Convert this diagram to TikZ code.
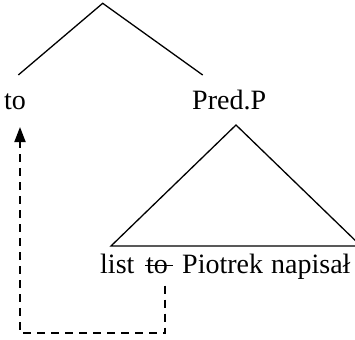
\documentclass[tikz,border=0pt]{standalone}
\usepackage{fontspec}
\setmainfont{Liberation Serif}
\usetikzlibrary{arrows.meta}
\begin{document}
\begin{tikzpicture}[x=1pt,y=1pt,
  word/.style={anchor=base west,inner sep=0pt,font=\fontsize{28}{33}\selectfont},
  branch/.style={line width=1.3pt},
  move/.style={line width=1.8pt,dash pattern=on 8pt off 6pt,-{Triangle[length=15pt,width=11pt]}}]
\useasboundingbox (0,0) rectangle (355,-339);
\clip (0,0) rectangle (355,-339);
% upper tree
\coordinate (apex) at (102.7,-3.3);
\coordinate (lend) at (18.3,-75);
\coordinate (rend) at (202.7,-75);
\draw[branch] (lend) -- (apex) -- (rend);
\node[word] (toup) at (4,-109.5) {to};
\node[word] (pred) at (192,-109.5) {Pred.P};
% triangle
\coordinate (tapex) at (236,-125);
\coordinate (tl) at (111,-246);
\coordinate (tr) at (361,-246);
\draw[branch] (tl) -- (tapex) -- (tr) -- cycle;
% lower words
\node[word] (list) at (100,-273) {list};
\node[word] (tolow) at (146,-273) {to};
\node[word] (piotrek) at (182,-273) {Piotrek};
\node[word] (napisal) at (271,-273) {napisał};
\draw[line width=1.6pt] ([xshift=-1pt,yshift=7.5pt]tolow.base west) -- ([xshift=5pt,yshift=7.5pt]tolow.base east);
% movement arrow
\coordinate (start) at (165,-285.5);
\coordinate (c1) at (165,-333);
\coordinate (c2) at (20,-333);
\coordinate (tip) at (20,-127);
\draw[move] (start) -- (c1) -- (c2) -- (tip);
\end{tikzpicture}
\end{document}
